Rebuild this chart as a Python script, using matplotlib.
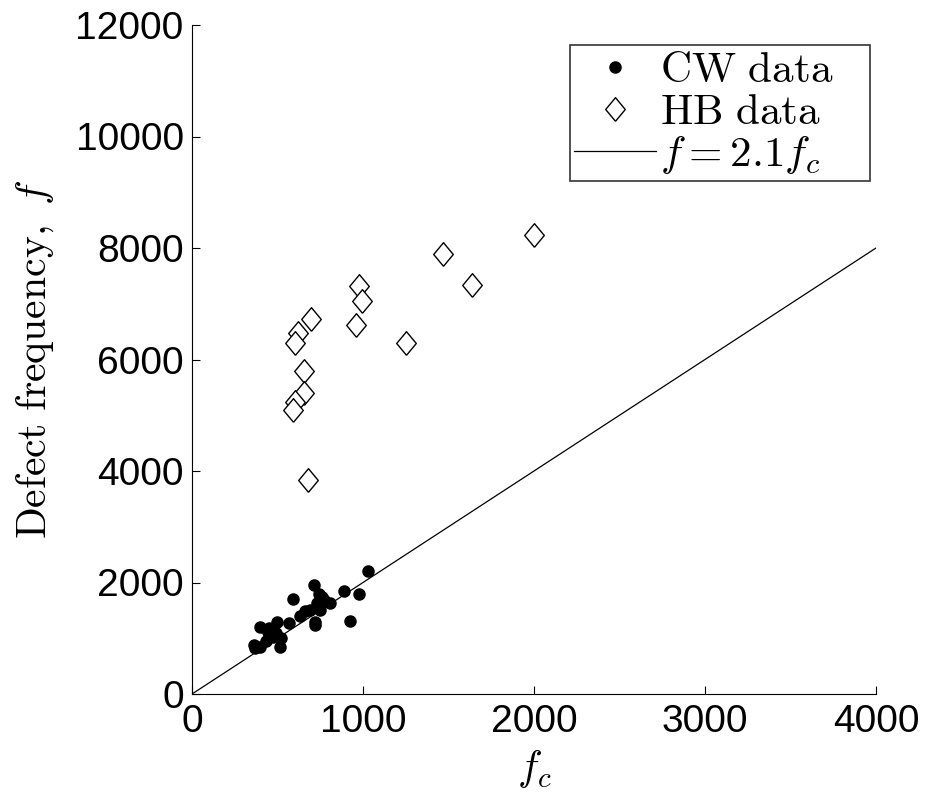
import numpy as np
import matplotlib
matplotlib.use("Agg")
import matplotlib.pyplot as plt

# CW data
cw_fc = [1030, 715, 890, 975, 925, 805, 740, 760, 770, 730, 750, 720, 720, 660, 630,
         590, 565, 500, 400, 445, 475, 360, 400, 515, 690, 450, 490, 520, 430, 370]
cw_f = [2200, 1960, 1840, 1800, 1310, 1630, 1800, 1745, 1690, 1630, 1510, 1290, 1230, 1480, 1400,
        1700, 1270, 1300, 1210, 1120, 1030, 880, 850, 850, 1500, 1180, 1100, 1000, 950, 820]

# HB data
hb_fc = [695, 620, 600, 655, 655, 600, 590, 680, 975, 995, 960, 1250, 1470, 1635, 2000]
hb_f = [6720, 6470, 6290, 5800, 5400, 5240, 5090, 3840, 7320, 7050, 6620, 6300, 7900, 7340, 8230]

# reference line as drawn
line_fc = [0, 4000]
line_f = [0, 8000]

plt.rcParams['mathtext.fontset'] = 'cm'

fig = plt.figure(figsize=(9.29, 7.93), dpi=100)
ax = fig.add_axes([192/929, 1-694/793, (876-192)/929, (694-25)/793])

diamond = [(0, -1), (0.83, 0), (0, 1), (-0.83, 0), (0, -1)]

ax.plot(cw_fc, cw_f, 'o', color='k', ms=8, label=r'$\mathrm{CW\ data}$')
ax.plot(hb_fc, hb_f, linestyle='none', marker=diamond, mfc='white', mec='k', mew=1.0,
        ms=17, label=r'$\mathrm{HB\ data}$')
ax.plot(line_fc, line_f, '-', color='k', lw=0.9, label=r'$f = 2.1f_c$')

ax.set_xlim(0, 4000)
ax.set_ylim(0, 12000)
ax.set_xticks([0, 1000, 2000, 3000, 4000])
ax.set_yticks(np.arange(0, 12001, 2000))
for s in ['top', 'right']:
    ax.spines[s].set_visible(False)
ax.tick_params(direction='in', length=6, width=0.8)
ax.tick_params(axis='x', pad=7)
ax.tick_params(axis='y', pad=6)
for lab in ax.get_xticklabels() + ax.get_yticklabels():
    lab.set_family('Liberation Sans')
    lab.set_fontsize(28)

ax.set_xlabel(r'$f_c$', fontsize=30, labelpad=6)
ax.set_ylabel(r'$\mathrm{Defect\ frequency,}\ f$', fontsize=30, labelpad=14)

leg = ax.legend(loc='upper left', fontsize=31, frameon=True, fancybox=False,
                edgecolor='k', borderpad=0.1, handlelength=1.9, handletextpad=0.1,
                labelspacing=0.0, borderaxespad=0, mode='expand',
                bbox_to_anchor=(0.5526, 0.767, 0.4386, 0.203))
leg.get_frame().set_linewidth(1.2)

fig.savefig('out.png', dpi=100)
